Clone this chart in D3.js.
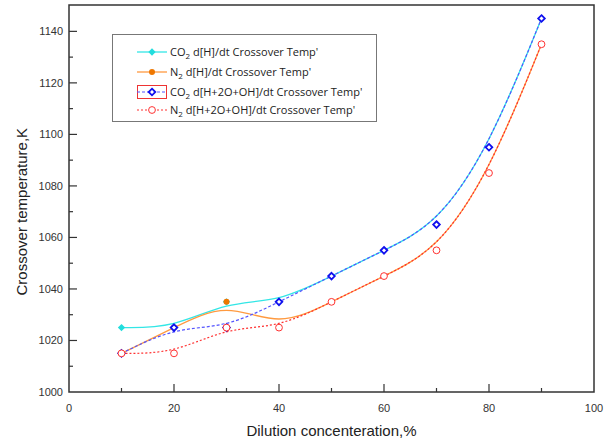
<!DOCTYPE html>
<html>
<head>
<meta charset="utf-8">
<script src="https://cdn.jsdelivr.net/npm/d3@7"></script>
<style>
  body { margin: 0; background: #fff; }
  svg { display: block; font-family: Arial, "Liberation Sans", sans-serif; }
</style>
</head>
<body>
<svg id="chart" width="605" height="444"></svg>
<script>
// dilution concentration, %
var dilution = [10, 20, 30, 40, 50, 60, 70, 80, 90];

var co2H    = [1025, 1025, 1035, 1035, 1045, 1055, 1065, 1095, 1145];
var n2H     = [1015, 1025, 1035, 1025, 1035, 1045, 1055, 1085, 1135];
var co2HOOH = [1015, 1025, 1025, 1035, 1045, 1055, 1065, 1095, 1145];
var n2HOOH  = [1015, 1015, 1025, 1025, 1035, 1045, 1055, 1085, 1135];

var seriesNames = [
  ["CO", "2", " d[H]/dt Crossover Temp'"],
  ["N", "2", " d[H]/dt Crossover Temp'"],
  ["CO", "2", " d[H+2O+OH]/dt Crossover Temp'"],
  ["N", "2", " d[H+2O+OH]/dt Crossover Temp'"]
];

var xTicks = [0, 20, 40, 60, 80, 100];
var yTicks = [1000, 1020, 1040, 1060, 1080, 1100, 1120, 1140];

var svg = d3.select("#chart");
var plotL = 69, plotR = 594, plotT = 5, plotB = 392;

var x = d3.scaleLinear().domain([0, 100]).range([plotL, plotR]);
var y = d3.scaleLinear().domain([1000, 1150]).range([plotB, plotT + 0.6]);

// frame
svg.append("rect")
    .attr("x", plotL).attr("y", plotT)
    .attr("width", plotR - plotL).attr("height", plotB - plotT)
    .attr("fill", "none").attr("stroke", "#333").attr("stroke-width", 1.5);

// ticks (inward)
var tickColor = "#333";
d3.range(10, 100, 10).forEach(function(v) {
  var major = v % 20 === 0;
  svg.append("line")
      .attr("x1", x(v)).attr("x2", x(v))
      .attr("y1", plotB).attr("y2", plotB - (major ? 8 : 4))
      .attr("stroke", tickColor).attr("stroke-width", 1.2);
});
d3.range(1010, 1150, 10).forEach(function(v) {
  var major = v % 20 === 0;
  svg.append("line")
      .attr("x1", plotL).attr("x2", plotL + (major ? 8 : 4))
      .attr("y1", y(v)).attr("y2", y(v))
      .attr("stroke", tickColor).attr("stroke-width", 1.2);
});

svg.selectAll(".xt").data(xTicks).enter().append("text")
    .attr("x", function(d) { return x(d); })
    .attr("y", plotB + 20)
    .attr("text-anchor", "middle")
    .attr("font-size", 11).attr("fill", "#333")
    .text(function(d) { return d; });

svg.selectAll(".yt").data(yTicks).enter().append("text")
    .attr("x", plotL - 6)
    .attr("y", function(d) { return y(d) + 4; })
    .attr("text-anchor", "end")
    .attr("font-size", 11).attr("fill", "#333")
    .text(function(d) { return d; });

svg.append("text")
    .attr("x", (plotL + plotR) / 2).attr("y", 436)
    .attr("text-anchor", "middle")
    .attr("font-size", 15).attr("fill", "#222")
    .text("Dilution concenteration,%");

svg.append("text")
    .attr("transform", "translate(27," + (y(1070)) + ") rotate(-90)")
    .attr("text-anchor", "middle")
    .attr("font-size", 15).attr("fill", "#222")
    .text("Crossover temperature,K");

// lines
var line = d3.line()
    .x(function(d) { return x(d[0]); })
    .y(function(d) { return y(d[1]); })
    .curve(d3.curveBasis);

function pts(vals) { return dilution.map(function(d, i) { return [d, vals[i]]; }); }

var diamond = d3.symbol().type(d3.symbolDiamond2);

var series = [
  { vals: co2H,    line: "#33e6e6", dash: null,  width: 1.3, mark: "fdiamond", color: "#22dddd" },
  { vals: n2H,     line: "#ff9a40", dash: null,  width: 1.3, mark: "fcircle",  color: "#ee7700" },
  { vals: co2HOOH, line: "#5555ff", dash: "3,2", width: 1.2, mark: "odiamond", color: "#1010ee" },
  { vals: n2HOOH,  line: "#ff3030", dash: "2,2", width: 1.2, mark: "ocircle",  color: "#ff3333" }
];

function drawMark(g, kind, color, cx, cy) {
  if (kind === "fdiamond") {
    g.append("path").attr("d", diamond.size(34)())
        .attr("transform", "translate(" + cx + "," + cy + ")")
        .attr("fill", color);
  } else if (kind === "fcircle") {
    g.append("circle").attr("cx", cx).attr("cy", cy).attr("r", 3).attr("fill", color);
  } else if (kind === "odiamond") {
    g.append("path").attr("d", diamond.size(28)())
        .attr("transform", "translate(" + cx + "," + cy + ")")
        .attr("fill", "#fff").attr("stroke", color).attr("stroke-width", 1.8);
  } else {
    g.append("circle").attr("cx", cx).attr("cy", cy).attr("r", 3.4)
        .attr("fill", "#fff").attr("stroke", color).attr("stroke-width", 1);
  }
}

series.forEach(function(s) {
  svg.append("path").attr("d", line(pts(s.vals)))
      .attr("fill", "none").attr("stroke", s.line)
      .attr("stroke-width", s.width)
      .attr("stroke-dasharray", s.dash);
});
series.forEach(function(s) {
  var g = svg.append("g");
  pts(s.vals).forEach(function(p) { drawMark(g, s.mark, s.color, x(p[0]), y(p[1])); });
});

// legend
var lg = svg.append("g");
lg.append("rect").attr("x", 112.5).attr("y", 34.5).attr("width", 264).attr("height", 87)
    .attr("fill", "#fff").attr("stroke", "#777").attr("stroke-width", 1);
var rowY = [52, 72, 92, 110];
series.forEach(function(s, i) {
  var yy = rowY[i];
  if (i === 2) {
    lg.append("rect").attr("x", 137.5).attr("y", yy - 6.5).attr("width", 29).attr("height", 13)
        .attr("fill", "none").attr("stroke", "#ee3333").attr("stroke-width", 1);
  }
  lg.append("line").attr("x1", 137).attr("x2", 167).attr("y1", yy).attr("y2", yy)
      .attr("stroke", s.line).attr("stroke-width", s.width)
      .attr("stroke-dasharray", s.dash);
  drawMark(lg, s.mark, s.color, 152, yy);
  var t = lg.append("text").attr("x", 170).attr("y", yy + 4)
      .attr("font-size", 11).attr("fill", "#222")
      .attr("font-family", "'Open Sans', 'Noto Sans', sans-serif");
  t.append("tspan").text(seriesNames[i][0]);
  t.append("tspan").attr("dy", 3).attr("font-size", 8).text(seriesNames[i][1]);
  t.append("tspan").attr("dy", -3).text(seriesNames[i][2]);
});
</script>
</body>
</html>
